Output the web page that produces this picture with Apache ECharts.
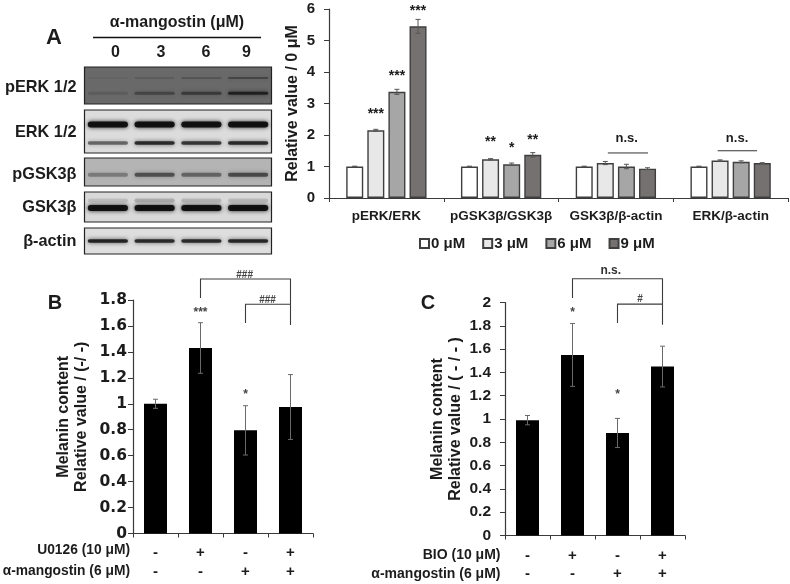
<!DOCTYPE html>
<html><head><meta charset="utf-8">
<style>html,body{margin:0;padding:0;background:#fff}#c{width:790px;height:584px;filter:blur(0.6px)}</style>
<script src="https://cdn.jsdelivr.net/npm/echarts@6/dist/echarts.min.js"></script>
</head><body><div id="c"></div>
<script>
// ---------- Panel A data ----------
const groupsA = ['pERK/ERK','pGSK3β/GSK3β','GSK3β/β-actin','ERK/β-actin'];
const dosesA = ['0 μM','3 μM','6 μM','9 μM'];
const dose0 = [1,1,1,1];
const dose3 = [2.15,1.23,1.11,1.19];
const dose6 = [3.37,1.07,1.0,1.15];
const dose9 = [5.45,1.37,0.93,1.11];
const err0 = [0.01,0.01,0.01,0.01];
const err3 = [0.03,0.02,0.05,0.02];
const err6 = [0.08,0.04,0.07,0.03];
const err9 = [0.22,0.07,0.03,0.01];
const ticksA = [0,1,2,3,4,5,6];
// ---------- Panel B data ----------
const rowU0126 = ['-','+','-','+'];
const rowMangoB = ['-','-','+','+'];
const melaninB = [1.0,1.43,0.795,0.975];
const errB = [0.035,0.195,0.19,0.25];
// ---------- Panel C data ----------
const rowBIO = ['-','+','-','+'];
const rowMangoC = ['-','-','+','+'];
const melaninC = [0.99,1.55,0.88,1.45];
const errC = [0.04,0.27,0.125,0.175];
// ---------- Blot data: intensity per lane ----------
const lanes = ['0','3','6','9'];
const pErkUpper = [0.05,0.12,0.2,0.36];
const pErkLower = [0.12,0.34,0.46,0.7];
const erkUpper = [0.92,0.92,0.92,0.92];
const erkLower = [0.5,0.78,0.72,0.78];
const pGskMain = [0.3,0.52,0.42,0.55];
const gskFaint = [0.12,0.2,0.16,0.14];
const gskMain = [0.92,0.92,0.92,0.92];
const actinMain = [0.82,0.78,0.78,0.8];

const FONT = '"Liberation Sans",Arial,sans-serif';
const INK = '#1c1c1c';

// [x, value, text, fontSize, colour]
const marksA = [
 [0-0.092,2.65,'***',14],[0+0.092,3.86,'***',14],[0+0.276,5.93,'***',14],
 [1-0.092,1.76,'**',14],[1+0.092,1.58,'*',14],[1+0.276,1.85,'**',14],
 [2.094,1.88,'n.s.',13],[3.056,1.88,'n.s.',13]
];
const linesA = [[1.93,2.28,1.43],[2.887,3.23,1.5]];
const marksB = [[1,1.70,'***',12,'#444'],[2,1.07,'*',12,'#444'],[1.98,1.99,'###',10,'#444'],[2.49,1.795,'###',10,'#444']];
const marksC = [[1,1.915,'*',12,'#444'],[2,1.21,'*',12,'#444'],[1.85,2.27,'n.s.',12,'#333'],[2.5,2.025,'#',10,'#444']];
// [x1, left bottom, x2, right bottom, top]
const bracketsB = [[1,1.816,3,1.607,1.962],[2,1.623,3,1.767,1.767]];
const bracketsC = [[1,2.038,3,1.808,2.204],[2,1.823,3,1.986,1.986]];

const gridsDef = [
 {left:329,top:9,width:459,height:189},
 {left:133,top:300,width:180,height:233.5},
 {left:505,top:302.5,width:180,height:233}
];
const blotDef = [
 {top:67,height:37,bg:'#696969',bands:[[pErkUpper,0.70,2],[pErkLower,0.29,3]]},
 {top:110,height:43,bg:'#dcdcdc',bands:[[erkUpper,0.66,6],[erkLower,0.23,3.5]]},
 {top:158,height:28,bg:'#b4b4b4',bands:[[pGskMain,0.40,4]]},
 {top:192,height:30,bg:'#d9d9d9',bands:[[gskFaint,0.72,4],[gskMain,0.47,6]]},
 {top:228,height:26,bg:'#dedede',bands:[[actinMain,0.50,3.6]]}
];

const grid = [], xAxis = [], yAxis = [], series = [];
function axisStyle(){return {onZero:false,lineStyle:{color:'#3a3a3a',width:1.2}}}
function axisStyleY(){return {show:true,onZero:false,lineStyle:{color:'#3a3a3a',width:1.2}}}
function valueAxisHidden(gi){return {type:'value',gridIndex:gi,min:-0.5,max:3.5,show:false}}

function errorSeries(xi,yi,rows,capPx,color){
 return {type:'custom',xAxisIndex:xi,yAxisIndex:yi,silent:true,z:5,
  data:rows,
  renderItem:function(p,api){
   const x=api.value(0),lo=api.coord([x,api.value(1)]),hi=api.coord([x,api.value(2)]);
   return {type:'group',children:[
    {type:'line',shape:{x1:lo[0],y1:lo[1],x2:hi[0],y2:hi[1]},style:{stroke:color,lineWidth:1}},
    {type:'line',shape:{x1:hi[0]-capPx,y1:hi[1],x2:hi[0]+capPx,y2:hi[1]},style:{stroke:color,lineWidth:1}},
    {type:'line',shape:{x1:lo[0]-capPx,y1:lo[1],x2:lo[0]+capPx,y2:lo[1]},style:{stroke:color,lineWidth:1}}
   ]};
  }};
}
function markSeries(xi,yi,rows){
 return {type:'custom',xAxisIndex:xi,yAxisIndex:yi,silent:true,z:6,
  data:rows.map(r=>[r[0],r[1]]),
  renderItem:function(p,api){
   const r=rows[p.dataIndex],pt=api.coord([r[0],r[1]]);
   return {type:'text',style:{x:pt[0],y:pt[1],text:r[2],fill:r[4]||INK,align:'center',verticalAlign:'middle',
     font:'bold '+r[3]+'px '+FONT}};
  }};
}
function bracketSeries(xi,yi,rows){
 return {type:'custom',xAxisIndex:xi,yAxisIndex:yi,silent:true,z:6,
  data:rows.map(r=>[r[0],r[4]]),
  renderItem:function(p,api){
   const r=rows[p.dataIndex];
   const a=api.coord([r[0],r[1]]),b=api.coord([r[0],r[4]]),c=api.coord([r[2],r[4]]),d=api.coord([r[2],r[3]]);
   return {type:'polyline',shape:{points:[a,b,c,d]},style:{fill:'none',stroke:'#3c3c3c',lineWidth:1.1}};
  }};
}

// Panel A
grid.push(gridsDef[0]);
xAxis.push({type:'category',gridIndex:0,data:groupsA,axisLine:axisStyle(),
 axisTick:{show:true,length:4,lineStyle:{color:'#3a3a3a'}},
 axisLabel:{color:INK,fontFamily:FONT,fontWeight:'bold',fontSize:13.5,margin:11,interval:0}});
yAxis.push({type:'value',gridIndex:0,min:0,max:6,interval:1,splitLine:{show:false},
 axisLine:axisStyleY(),axisTick:{show:true,length:5,lineStyle:{color:'#3a3a3a'}},
 axisLabel:{color:INK,fontFamily:FONT,fontWeight:'bold',fontSize:15,margin:14,formatter:v=>ticksA.includes(v)?String(v):''},
 name:'Relative value / 0 μM',nameLocation:'middle',nameGap:28,nameMoveOverlap:false,nameRotate:90,
 nameTextStyle:{color:INK,fontFamily:FONT,fontWeight:'bold',fontSize:16}});
xAxis.push(valueAxisHidden(0));

const colorsA=['#ffffff','#e8e8e8','#a6a6a6','#767171'];
const valsA=[dose0,dose3,dose6,dose9], errsA=[err0,err3,err6,err9];
valsA.forEach((v,i)=>{
 series.push({type:'bar',name:dosesA[i],xAxisIndex:0,yAxisIndex:0,data:v,barCategoryGap:'30%',barGap:'24%',
  itemStyle:{color:colorsA[i],borderColor:'#3f3f3f',borderWidth:1.4}});
});
const errRowsA=[];
valsA.forEach((v,i)=>v.forEach((val,g)=>errRowsA.push([g+(i-1.5)*0.1839,val-errsA[i][g],val+errsA[i][g]])));
series.push(errorSeries(1,0,errRowsA,2.5,'#555'));
series.push(markSeries(1,0,marksA));
series.push({type:'custom',xAxisIndex:1,yAxisIndex:0,silent:true,z:6,
 data:linesA.map(r=>[r[0],r[2]]),
 renderItem:function(p,api){
  const r=linesA[p.dataIndex],a=api.coord([r[0],r[2]]),b=api.coord([r[1],r[2]]);
  return {type:'line',shape:{x1:a[0],y1:a[1],x2:b[0],y2:b[1]},style:{stroke:'#333',lineWidth:1}};
 }});

// Panels B and C
function melaninPanel(gi,rowA,rowB,vals,errs,max,step,nameGap,marks,brackets,tickFont,tickSize,labelLH,margin,yName,labelMargin){
 const gidx=grid.length; grid.push(gridsDef[gi]);
 const xi=xAxis.length;
 xAxis.push({type:'category',gridIndex:gidx,data:rowA.map((a,i)=>a+'\n'+rowB[i]),axisLine:axisStyle(),
  axisTick:{show:true,length:4,lineStyle:{color:'#3a3a3a'}},
  axisLabel:{color:INK,fontFamily:FONT,fontWeight:'bold',fontSize:15,margin:labelMargin,lineHeight:labelLH,interval:0}});
 xAxis.push(valueAxisHidden(gidx));
 const yi=yAxis.length;
 yAxis.push({type:'value',gridIndex:gidx,min:0,max:max,interval:step,splitLine:{show:false},
  axisLine:axisStyleY(),axisTick:{show:true,length:5,lineStyle:{color:'#3a3a3a'}},
  axisLabel:{color:INK,fontFamily:tickFont,fontWeight:'bold',fontSize:tickSize,margin:margin,formatter:v=>String(+v.toFixed(1))},
  name:yName,nameLocation:'middle',nameGap:nameGap,nameRotate:90,
  nameTextStyle:{color:INK,fontFamily:FONT,fontWeight:'bold',fontSize:16,lineHeight:18.5}});
 series.push({type:'bar',xAxisIndex:xi,yAxisIndex:yi,data:vals,barWidth:23,itemStyle:{color:'#000'}});
 series.push(errorSeries(xi+1,yi,vals.map((v,i)=>[i,v-errs[i],v+errs[i]]),2.5,'#6a6a6a'));
 series.push(markSeries(xi+1,yi,marks));
 series.push(bracketSeries(xi+1,yi,brackets));
}
melaninPanel(1,rowU0126,rowMangoB,melaninB,errB,1.8,0.2,42,marksB,bracketsB,'"DejaVu Sans"',15.5,19,6,'Melanin content\nRelative value / (-/ -)',10);
melaninPanel(2,rowBIO,rowMangoC,melaninC,errC,2,0.2,40,marksC,bracketsC,FONT,15.5,18,14,'Melanin content\nRelative value / ( - / - )',11);

// Blots
blotDef.forEach(b=>{
 const gidx=grid.length;
 grid.push({left:84.5,top:b.top,width:187,height:b.height,show:true,backgroundColor:b.bg,borderColor:'#222',borderWidth:1.2});
 const xi=xAxis.length, yi=yAxis.length;
 xAxis.push({type:'category',gridIndex:gidx,data:lanes,show:false});
 yAxis.push({type:'value',gridIndex:gidx,min:0,max:1,show:false,splitLine:{show:false}});
 const rows=[];
 b.bands.forEach(bd=>bd[0].forEach((v,l)=>rows.push([l,bd[1],v,bd[2]])));
 series.push({type:'custom',xAxisIndex:xi,yAxisIndex:yi,silent:true,z:3,clip:true,data:rows,
  renderItem:function(p,api){
   const c=api.coord([api.value(0),api.value(1)]),bw=api.size([1,0])[0]*0.86,h=api.value(3),a=api.value(2);
   const col='rgba(10,10,10,'+a+')';
   return {type:'rect',shape:{x:c[0]-bw/2,y:c[1]-h/2,width:bw,height:h,r:h/2},
     style:{fill:col,shadowBlur:4,shadowColor:col}};
  }});
});

// Texts placed around the panels
const texts=[
 ['α-mangostin (μM)',177,23,'center',16],
 ['0',115.5,53,'center',16],['3',161,53,'center',16],['6',206,53,'center',16],['9',246.5,53,'center',16],
 ['A',54,38,'center',22],
 ['pERK 1/2',76.5,88,'right',16.3],['ERK 1/2',76.5,133,'right',16.3],['pGSK3β',76.5,175,'right',16.3],
 ['GSK3β',76.5,208,'right',16.3],['β-actin',76.5,242,'right',16.3],
 ['B',55,303,'center',20],
 ['U0126 (10 μM)',130,550,'right',13.8],['α-mangostin (6 μM)',130,571,'right',13.8],
 ['C',428,303,'center',20],
 ['BIO (10 μM)',500.5,555.5,'right',14],['α-mangostin (6 μM)',500.5,574,'right',14]
];
const graphic=texts.map(t=>({type:'text',silent:true,style:{text:t[0],x:t[1],y:t[2],align:t[3],verticalAlign:'middle',fill:INK,
  font:'bold '+t[4]+'px '+FONT}}));
graphic.push({type:'line',silent:true,shape:{x1:93,y1:37.5,x2:261,y2:37.5},style:{stroke:'#111',lineWidth:1.4}});

const chart=echarts.init(document.getElementById('c'),null,{renderer:'canvas'});
chart.setOption({animation:false,backgroundColor:'#fff',
 legend:{data:dosesA,left:414,top:231,itemWidth:9,itemHeight:9,itemGap:17,icon:'rect',
  textStyle:{color:INK,fontFamily:FONT,fontWeight:'bold',fontSize:15,padding:[0,0,0,-3]}},
 grid,xAxis,yAxis,series,graphic});
</script></body></html>
